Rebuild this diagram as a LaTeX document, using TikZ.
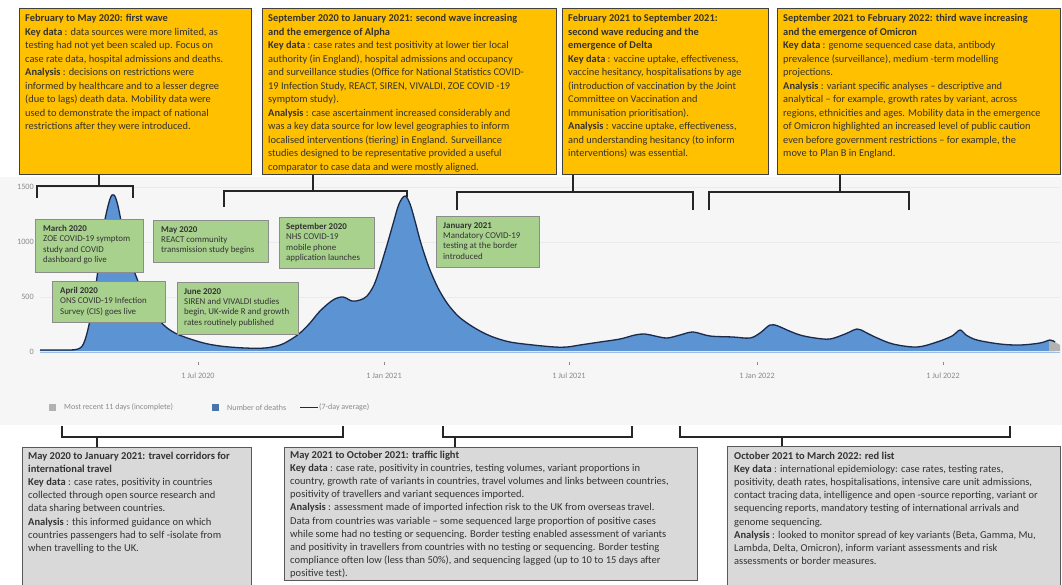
\documentclass[tikz,border=0pt]{standalone}
\usepackage{fontspec}
\setmainfont{Carlito}
\definecolor{orangeC}{HTML}{FFC000}
\definecolor{greenC}{HTML}{A9D18E}
\definecolor{greyC}{HTML}{D9D9D9}
\definecolor{areaC}{HTML}{5B93D3}
\definecolor{lineC}{HTML}{1B2A4A}
\definecolor{bgC}{HTML}{F6F6F6}
\definecolor{txtC}{HTML}{333333}
\definecolor{axC}{HTML}{8A8A8A}
\begin{document}
\begin{tikzpicture}[x=1pt,y=-1pt,
  obox/.style={draw=black!75, fill=orangeC, line width=0.9pt, anchor=north west, inner sep=0pt},
  gbox/.style={draw=black!45, fill=greenC, line width=0.7pt, anchor=north west, inner sep=0pt},
  bbox/.style={draw=black!65, fill=greyC, line width=0.9pt, anchor=north west, inner sep=0pt},
  otext/.style={anchor=north west, inner sep=0pt, align=left, text=txtC, font=\fontsize{10.4}{13.5}\selectfont},
  gtext/.style={anchor=north west, inner sep=0pt, align=left, text=txtC, font=\fontsize{8.9}{10.4}\selectfont},
  btext/.style={anchor=north west, inner sep=0pt, align=left, text=txtC, font=\fontsize{10.5}{13.1}\selectfont},
  axlab/.style={text=axC, font=\fontsize{8.2}{9}\selectfont, inner sep=0pt},
  leglab/.style={text=axC, font=\fontsize{8}{9}\selectfont, inner sep=0pt, anchor=west},
  brk/.style={draw=black!85, line width=1.3pt},
]
\useasboundingbox (0,0) rectangle (1062,584);
\fill[white] (0,0) rectangle (1062,584);
% chart background
\fill[bgC] (0,177) rectangle (1062,425);
\foreach \yy in {187,242,297}{\draw[black!8, line width=0.5pt] (40,\yy) -- (1060,\yy);}
% axis labels
\node[axlab, anchor=east] (y1500) at (34,187) {1500};
\node[axlab, anchor=east] (y1000) at (34,242) {1000};
\node[axlab, anchor=east] (y500) at (34,297) {500};
\node[axlab, anchor=east] (y0) at (34,352) {0};
\foreach \xx/\lab/\nm in {198/1 Jul 2020/xa, 384/1 Jan 2021/xb, 569/1 Jul 2021/xc, 757/1 Jan 2022/xd, 943/1 Jul 2022/xe}{
  \draw[axC, line width=0.5pt] (\xx,362) -- (\xx,365);
  \node[axlab] (\nm) at (\xx,376) {\lab};
}
% area
\fill[areaC] plot[smooth, tension=0.55] coordinates {(40,350) (60,350) (78,349) (85,340) (92,310) (98,270) (104,225) (110,199) (114,195) (118,206) (124,236) (130,260) (136,276) (145,298) (160,321) (175,333) (200,342) (220,346) (245,348) (265,348) (280,345) (290,340) (300,333) (310,323) (320,311) (333,300) (343,297) (352,301) (360,300) (367,296) (374,285) (380,268) (387,245) (393,224) (399,204) (405,196) (410,204) (415,221) (420,240) (425,256) (430,270) (438,288) (447,303) (457,315) (467,323) (480,331) (493,337) (510,342) (533,345) (555,347) (567,347) (580,345) (600,342) (620,339) (635,335) (645,334) (655,336) (667,338) (680,335) (693,332) (710,336) (733,337) (750,338) (760,333) (770,325) (778,326) (787,330) (800,335) (815,338) (830,339) (845,334) (857,329) (865,332) (875,337) (893,344) (917,347) (937,342) (952,336) (960,330) (966,335) (977,340) (1000,344) (1020,345) (1040,343) (1050,340) (1055,342)} -- (1055,351) -- (40,351) -- cycle;
\fill[black!30] (1049,351) -- (1049,341) -- (1055,342) -- (1060,345) -- (1060,351) -- cycle;
\draw[lineC, line width=1.3pt, line join=round] plot[smooth, tension=0.55] coordinates {(40,350) (60,350) (78,349) (85,340) (92,310) (98,270) (104,225) (110,199) (114,195) (118,206) (124,236) (130,260) (136,276) (145,298) (160,321) (175,333) (200,342) (220,346) (245,348) (265,348) (280,345) (290,340) (300,333) (310,323) (320,311) (333,300) (343,297) (352,301) (360,300) (367,296) (374,285) (380,268) (387,245) (393,224) (399,204) (405,196) (410,204) (415,221) (420,240) (425,256) (430,270) (438,288) (447,303) (457,315) (467,323) (480,331) (493,337) (510,342) (533,345) (555,347) (567,347) (580,345) (600,342) (620,339) (635,335) (645,334) (655,336) (667,338) (680,335) (693,332) (710,336) (733,337) (750,338) (760,333) (770,325) (778,326) (787,330) (800,335) (815,338) (830,339) (845,334) (857,329) (865,332) (875,337) (893,344) (917,347) (937,342) (952,336) (960,330) (966,335) (977,340) (1000,344) (1020,345) (1040,343) (1050,340) (1055,342)};
\draw[areaC!60, line width=1pt] (40,352) -- (1060,352);
% legend
\fill[black!30] (49,404) rectangle (56,411);
\node[leglab] (lg1) at (64,407.5) {Most recent 11 days (incomplete)};
\fill[areaC!80!black] (212,404) rectangle (219,411);
\node[leglab] (lg2) at (227,407.5) {Number of deaths};
\draw[lineC, line width=1.5pt] (300,407.5) -- (318,407.5);
\node[leglab] (lg3) at (319,407.5) {(7-day average)};

% ---------- orange boxes ----------
\node[obox, minimum width=232pt, minimum height=166pt] (o1) at (19,8) {};
\node[otext] (o1t) at (25,14) {\textbf{February to May 2020: first wave}\\
\textbf{Key data} : data sources were more limited, as\\
testing had not yet been scaled up. Focus on\\
case rate data, hospital admissions and deaths.\\
\textbf{Analysis} : decisions on restrictions were\\
informed by healthcare and to a lesser degree\\
(due to lags) death data. Mobility data were\\
used to demonstrate the impact of national\\
restrictions after they were introduced.};
\node[obox, minimum width=294pt, minimum height=166pt] (o2) at (262,8) {};
\node[otext] (o2t) at (268,14) {\textbf{September 2020 to January 2021: second wave increasing}\\
\textbf{and the emergence of Alpha}\\
\textbf{Key data} : case rates and test positivity at lower tier local\\
authority (in England), hospital admissions and occupancy\\
and surveillance studies (Office for National Statistics COVID-\\
19 Infection Study, REACT, SIREN, VIVALDI, ZOE COVID -19\\
symptom study).\\
\textbf{Analysis} : case ascertainment increased considerably and\\
was a key data source for low level geographies to inform\\
localised interventions (tiering) in England. Surveillance\\
studies designed to be representative provided a useful\\
comparator to case data and were mostly aligned.};
\node[obox, minimum width=206pt, minimum height=166pt] (o3) at (562,8) {};
\node[otext] (o3t) at (568,14) {\textbf{February 2021 to September 2021:}\\
\textbf{second wave reducing and the}\\
\textbf{emergence of Delta}\\
\textbf{Key data} : vaccine uptake, effectiveness,\\
vaccine hesitancy, hospitalisations by age\\
(introduction of vaccination by the Joint\\
Committee on Vaccination and\\
Immunisation prioritisation).\\
\textbf{Analysis} : vaccine uptake, effectiveness,\\
and understanding hesitancy (to inform\\
interventions) was essential.};
\node[obox, minimum width=283pt, minimum height=166pt] (o4) at (777,8) {};
\node[otext] (o4t) at (783,14) {\textbf{September 2021 to February 2022: third wave increasing}\\
\textbf{and the emergence of Omicron}\\
\textbf{Key data} : genome sequenced case data, antibody\\
prevalence (surveillance), medium -term modelling\\
projections.\\
\textbf{Analysis} : variant specific analyses -- descriptive and\\
analytical -- for example, growth rates by variant, across\\
regions, ethnicities and ages. Mobility data in the emergence\\
of Omicron highlighted an increased level of public caution\\
even before government restrictions -- for example, the\\
move to Plan B in England.};

% top brackets
\coordinate (k1) at (99,186);
\coordinate (a1) at (37,198); \coordinate (c1) at (133,198);
\draw[brk] (o1.south -| k1) -- (k1);
\draw[brk] (a1) -- (a1 |- k1) -- (c1 |- k1) -- (c1);
\coordinate (k2) at (313,191);
\coordinate (a2) at (224,207); \coordinate (c2) at (407,197);
\draw[brk] (o2.south -| k2) -- (k2);
\draw[brk] (a2) -- (a2 |- k2) -- (c2 |- k2) -- (c2);
\coordinate (k3) at (573,192);
\coordinate (a3) at (457,210); \coordinate (c3) at (693,210);
\draw[brk] (o3.south -| k3) -- (k3);
\draw[brk] (a3) -- (a3 |- k3) -- (c3 |- k3) -- (c3);
\coordinate (k4) at (840,192);
\coordinate (a4) at (709,210); \coordinate (c4) at (909,210);
\draw[brk] (o4.south -| k4) -- (k4);
\draw[brk] (a4) -- (a4 |- k4) -- (c4 |- k4) -- (c4);

% ---------- green boxes ----------
\node[gbox, minimum width=108pt, minimum height=53pt] (gmar) at (35,219) {};
\node[gtext] (gmart) at (43,225) {\textbf{March 2020}\\ZOE COVID-19 symptom\\study and COVID\\dashboard go live};
\node[gbox, minimum width=115pt, minimum height=42pt] (gmay) at (153,220) {};
\node[gtext] (gmayt) at (161,226) {\textbf{May 2020}\\REACT community\\transmission study begins};
\node[gbox, minimum width=113pt, minimum height=41pt] (gapr) at (52,281) {};
\node[gtext] (gaprt) at (60,287) {\textbf{April 2020}\\ONS COVID-19 Infection\\Survey (CIS) goes live};
\node[gbox, minimum width=121pt, minimum height=52pt] (gjun) at (177,282) {};
\node[gtext] (gjunt) at (184,288) {\textbf{June 2020}\\SIREN and VIVALDI studies\\begin, UK-wide R and growth\\rates routinely published};
\node[gbox, minimum width=95pt, minimum height=51pt] (gsep) at (279,217) {};
\node[gtext] (gsept) at (286,223) {\textbf{September 2020}\\NHS COVID-19\\mobile phone\\application launches};
\node[gbox, minimum width=103pt, minimum height=51pt] (gjan) at (436,216) {};
\node[gtext] (gjant) at (443,222) {\textbf{January 2021}\\Mandatory COVID-19\\testing at the border\\introduced};

% ---------- bottom boxes ----------
\node[bbox, minimum width=229pt, minimum height=140pt] (b1) at (22,447) {};
\node[btext] (b1t) at (28,452) {\textbf{May 2020 to January 2021: travel corridors for}\\
\textbf{international travel}\\
\textbf{Key data} : case rates, positivity in countries\\
collected through open source research and\\
data sharing between countries.\\
\textbf{Analysis} : this informed guidance on which\\
countries passengers had to self -isolate from\\
when travelling to the UK.};
\node[bbox, minimum width=413pt, minimum height=133pt] (b2) at (284,447) {};
\node[btext] (b2t) at (290,451) {\textbf{May 2021 to October 2021: traffic light}\\
\textbf{Key data} : case rate, positivity in countries, testing volumes, variant proportions in\\
country, growth rate of variants in countries, travel volumes and links between countries,\\
positivity of travellers and variant sequences imported.\\
\textbf{Analysis} : assessment made of imported infection risk to the UK from overseas travel.\\
Data from countries was variable -- some sequenced large proportion of positive cases\\
while some had no testing or sequencing. Border testing enabled assessment of variants\\
and positivity in travellers from countries with no testing or sequencing. Border testing\\
compliance often low (less than 50\%), and sequencing lagged (up to 10 to 15 days after\\
positive test).};
\node[bbox, minimum width=333pt, minimum height=140pt] (b3) at (727,446) {};
\node[btext] (b3t) at (734,452) {\textbf{October 2021 to March 2022: red list}\\
\textbf{Key data} : international epidemiology: case rates, testing rates,\\
positivity, death rates, hospitalisations, intensive care unit admissions,\\
contact tracing data, intelligence and open -source reporting, variant or\\
sequencing reports, mandatory testing of international arrivals and\\
genome sequencing.\\
\textbf{Analysis} : looked to monitor spread of key variants (Beta, Gamma, Mu,\\
Lambda, Delta, Omicron), inform variant assessments and risk\\
assessments or border measures.};

% bottom brackets
\coordinate (m1) at (97,437);
\coordinate (d1) at (62,426); \coordinate (e1) at (343,426);
\draw[brk] (m1) -- (b1.north -| m1);
\draw[brk] (d1) -- (d1 |- m1) -- (e1 |- m1) -- (e1);
\coordinate (m2) at (455,437);
\coordinate (d2) at (443,426); \coordinate (e2) at (632,426);
\draw[brk] (m2) -- (b2.north -| m2);
\draw[brk] (d2) -- (d2 |- m2) -- (e2 |- m2) -- (e2);
\coordinate (m3) at (782,437);
\coordinate (d3) at (680,426); \coordinate (e3) at (1010,426);
\draw[brk] (m3) -- (b3.north -| m3);
\draw[brk] (d3) -- (d3 |- m3) -- (e3 |- m3) -- (e3);
\end{tikzpicture}
\end{document}
